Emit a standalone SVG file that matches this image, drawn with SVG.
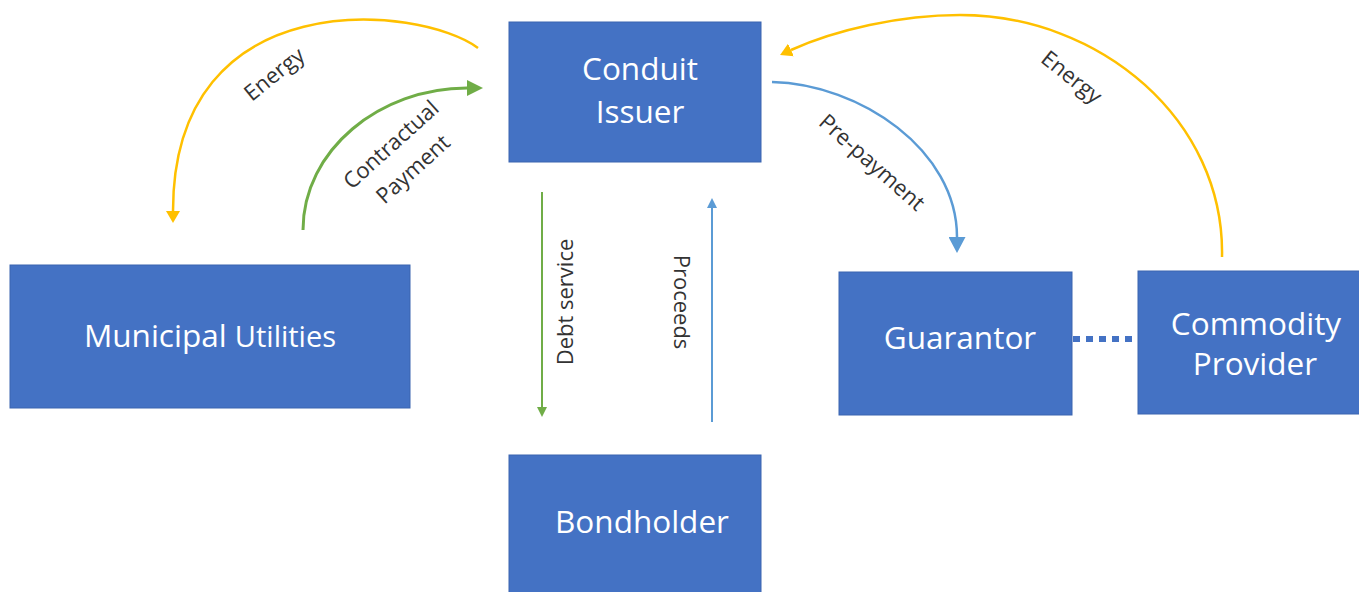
<svg xmlns="http://www.w3.org/2000/svg" width="1359" height="592" viewBox="0 0 1359 592">
<style>
.box{fill:#4472C4;stroke:#3A64B0;stroke-width:1}
.nt{fill:#FFFFFF;font-family:"Open Sans","DejaVu Sans",sans-serif;font-size:31.5px;text-anchor:middle}
.lb{fill:#333333;font-family:"Open Sans","DejaVu Sans",sans-serif;font-size:22px;text-anchor:middle}
.c{fill:none}
</style>
<defs>
<marker id="ay" markerUnits="userSpaceOnUse" viewBox="0 0 12 14" markerWidth="12" markerHeight="14" refX="0" refY="7" orient="auto"><path d="M0,0 L12,7 L0,14 Z" fill="#FFC000"/></marker>
<marker id="ag" markerUnits="userSpaceOnUse" viewBox="0 0 16 16" markerWidth="16" markerHeight="16" refX="0" refY="8" orient="auto"><path d="M0,0 L16,8 L0,16 Z" fill="#70AD47"/></marker>
<marker id="ab" markerUnits="userSpaceOnUse" viewBox="0 0 16 17" markerWidth="16" markerHeight="17" refX="0" refY="8.5" orient="auto"><path d="M0,0 L16,8.5 L0,17 Z" fill="#5B9BD5"/></marker>
<marker id="ags" markerUnits="userSpaceOnUse" viewBox="0 0 10 10" markerWidth="10" markerHeight="10" refX="0" refY="5" orient="auto"><path d="M0,0 L10,5 L0,10 Z" fill="#70AD47"/></marker>
<marker id="abs" markerUnits="userSpaceOnUse" viewBox="0 0 10 10" markerWidth="10" markerHeight="10" refX="0" refY="5" orient="auto"><path d="M0,0 L10,5 L0,10 Z" fill="#5B9BD5"/></marker>
</defs>
<rect width="1359" height="592" fill="#FFFFFF"/>
<g id="connectors">
<path class="c" d="M478,48 C420,5 173,-20 173,211" stroke="#FFC000" stroke-width="2.5" marker-end="url(#ay)"/>
<path class="c" d="M303,230 C303,150 380,88 467,88" stroke="#70AD47" stroke-width="3" marker-end="url(#ag)"/>
<path class="c" d="M1222,257 C1225,120 1100,15 960,15 C900,15 835,30 791,50" stroke="#FFC000" stroke-width="2.5" marker-end="url(#ay)"/>
<path class="c" d="M772,82 C860,84 957,150 957,237" stroke="#5B9BD5" stroke-width="2.5" marker-end="url(#ab)"/>
<path class="c" d="M542,192 L542,407" stroke="#70AD47" stroke-width="2" marker-end="url(#ags)"/>
<path class="c" d="M712,422 L712,208" stroke="#5B9BD5" stroke-width="2" marker-end="url(#abs)"/>
<path class="c" d="M1073,339 L1133,339" stroke="#4472C4" stroke-width="6" stroke-dasharray="7 6"/>
<text class="lb" transform="translate(279,80) rotate(-39)">Energy</text>
<g transform="translate(402,157) rotate(-42)">
<text class="lb" x="0" y="-9">Contractual</text>
<text class="lb" x="0" y="24">Payment</text>
</g>
<text class="lb" transform="translate(1067,83) rotate(38.5)">Energy</text>
<text class="lb" transform="translate(867,168) rotate(41.6)">Pre-payment</text>
<text class="lb" transform="translate(573,302) rotate(-90)">Debt service</text>
<text class="lb" transform="translate(674,302) rotate(90)">Proceeds</text>
</g>
<g id="conduit-issuer">
<rect class="box" x="509" y="22" width="252" height="140"/>
<text class="nt" x="640" y="80">Conduit</text>
<text class="nt" x="640" y="123">Issuer</text>
</g>
<g id="municipal-utilities">
<rect class="box" x="10" y="265" width="400" height="143"/>
<text class="nt" x="210" y="347" font-size="32">Municipal <tspan font-size="29">Utilities</tspan></text>
</g>
<g id="bondholder">
<rect class="box" x="509" y="455" width="252" height="145"/>
<text class="nt" x="642" y="533">Bondholder</text>
</g>
<g id="guarantor">
<rect class="box" x="839" y="272" width="233" height="143"/>
<text class="nt" x="960" y="349">Guarantor</text>
</g>
<g id="commodity-provider">
<rect class="box" x="1138" y="271" width="230" height="143"/>
<text class="nt" x="1256" y="335">Commodity</text>
<text class="nt" x="1255" y="375">Provider</text>
</g>
</svg>
